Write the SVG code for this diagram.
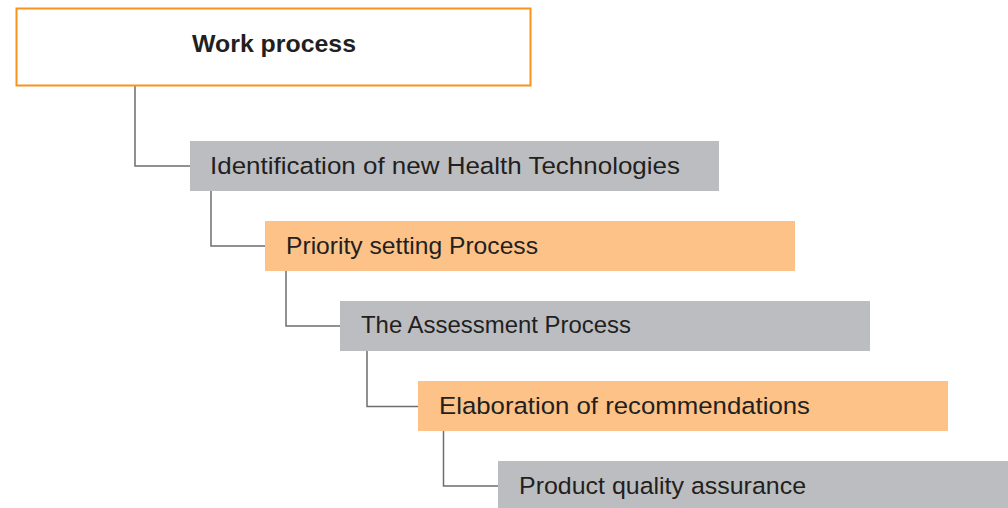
<svg xmlns="http://www.w3.org/2000/svg" width="1008" height="508" viewBox="0 0 1008 508">
<style>
.lbl{font-family:"Liberation Sans",Arial,sans-serif;font-size:24.5px;fill:#231f20;}
.grey{fill:#bcbdc0;}
.orange{fill:#fdc287;}
.conn{fill:none;stroke:#6d6e71;stroke-width:1.5;}
</style>
<rect width="1008" height="508" fill="#ffffff"/>
<g id="connectors">
<path class="conn" d="M135,86 V166 H190"/>
<path class="conn" d="M211,191 V246 H265"/>
<path class="conn" d="M286,271 V326 H340"/>
<path class="conn" d="M367,351 V406.5 H418"/>
<path class="conn" d="M443.5,431 V486 H498"/>
</g>
<g id="work-process">
<rect x="16.5" y="8.5" width="514" height="77" fill="#ffffff" stroke="#f7941d" stroke-width="2"/>
<text x="192" y="52" textLength="164" lengthAdjust="spacingAndGlyphs" font-family="Liberation Sans, Arial, sans-serif" font-size="24" font-weight="bold" fill="#231f20">Work process</text>
</g>
<g id="identification">
<rect class="grey" x="190" y="141" width="529" height="50"/>
<text class="lbl" x="210" y="174" textLength="470" lengthAdjust="spacingAndGlyphs">Identification of new Health Technologies</text>
</g>
<g id="priority">
<rect class="orange" x="265" y="221" width="530" height="50"/>
<text class="lbl" x="286" y="254" textLength="252" lengthAdjust="spacingAndGlyphs">Priority setting Process</text>
</g>
<g id="assessment">
<rect class="grey" x="340" y="301" width="530" height="50"/>
<text class="lbl" x="361" y="333" textLength="270" lengthAdjust="spacingAndGlyphs">The Assessment Process</text>
</g>
<g id="elaboration">
<rect class="orange" x="418" y="381" width="530" height="50"/>
<text class="lbl" x="439" y="414" textLength="371" lengthAdjust="spacingAndGlyphs">Elaboration of recommendations</text>
</g>
<g id="quality">
<rect class="grey" x="498" y="461" width="520" height="50"/>
<text class="lbl" x="519" y="494" textLength="287" lengthAdjust="spacingAndGlyphs">Product quality assurance</text>
</g>
</svg>
